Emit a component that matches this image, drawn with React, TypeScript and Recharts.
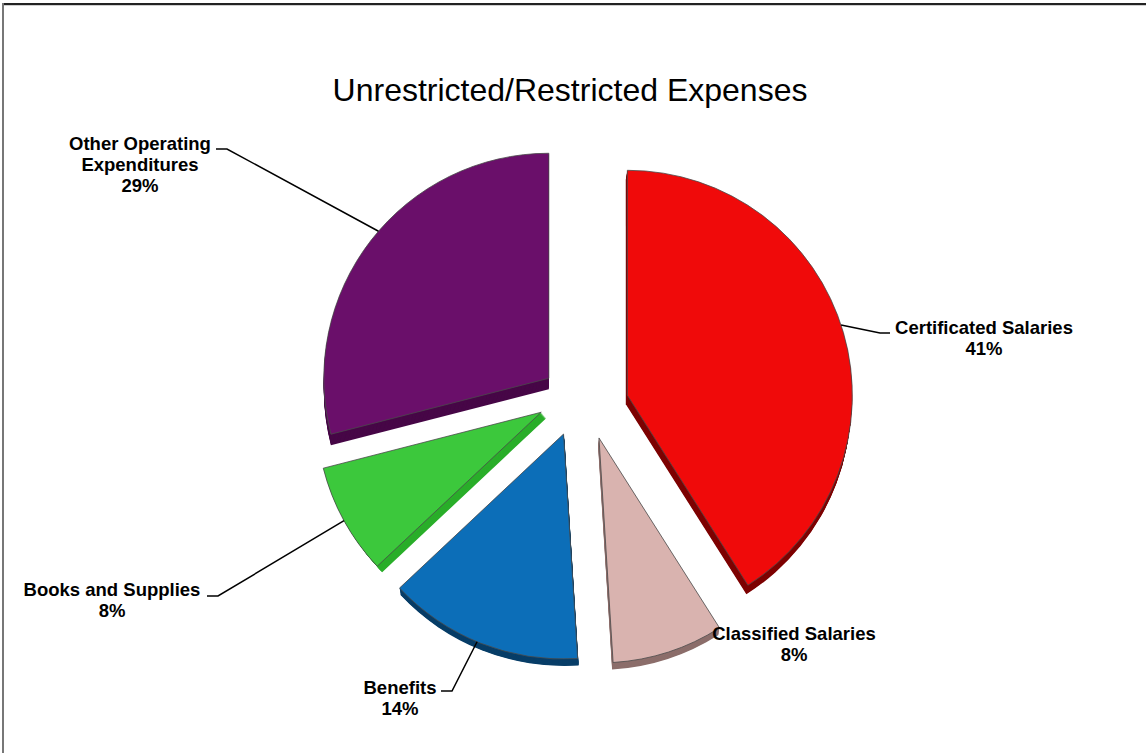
import React from 'react';
import { PieChart, Pie, Sector } from 'recharts';

// ---- data ----
const categories = [
  'Certificated Salaries',
  'Classified Salaries',
  'Benefits',
  'Books and Supplies',
  'Other Operating Expenditures',
];
const values = [41, 8, 14, 8, 29];
const labelLines = [
  ['Certificated Salaries'],
  ['Classified Salaries'],
  ['Benefits'],
  ['Books and Supplies'],
  ['Other Operating', 'Expenditures'],
];
const title = 'Unrestricted/Restricted Expenses';

// ---- style ----
const topColors = ['#F00A0A', '#D9B3AF', '#0C6EB8', '#3CC83C', '#6A0F6A'];
const sideColors = ['#7E0303', '#8C6E6B', '#083E68', '#2AAE2A', '#470747'];

const W = 1146;
const H = 753;
const CX = 584;
const CY = 404;
const R = 225;
const EXPLODE = 42;
const STEPS = 12;
const RAD = Math.PI / 180;
const FONT = '"Liberation Sans", Arial, sans-serif';

// per-slice visual tweaks: extra explode nudge and extrusion (depth) vector
const sliceStyle = [
  { nudge: [3, 3], depth: [-1.5, 9] },
  { nudge: [2, -6], depth: [-1, 7] },
  { nudge: [-5, -9], depth: [1, 7] },
  { nudge: [-6, -12], depth: [5, 6] },
  { nudge: [-2, 0], depth: [0, 11] },
];

// label layout: text centre/baseline, leader elbow and end (null = no leader)
const labelLayout: any[] = [
  { tx: 984, ty: 334, elbow: [880, 333], end: [890, 333], tweak: 2 },
  { tx: 794, ty: 640, elbow: null, end: null, tweak: 0 },
  { tx: 400, ty: 694, elbow: [452, 691], end: [441, 691], tweak: -1 },
  { tx: 112, ty: 596, elbow: [218, 596], end: [207, 596], tweak: 0 },
  { tx: 140, ty: 150, elbow: [227, 149], end: [216, 149], tweak: -3 },
];

const data = categories.map((name, i) => ({ name, value: values[i] }));

const explodedCenter = (cx: number, cy: number, midAngle: number, index: number) => ({
  x: cx + EXPLODE * Math.cos(-midAngle * RAD) + sliceStyle[index].nudge[0],
  y: cy + EXPLODE * Math.sin(-midAngle * RAD) + sliceStyle[index].nudge[1],
});

const renderSlice = (props: any) => {
  const { cx, cy, outerRadius, startAngle, endAngle, midAngle, index } = props;
  const o = explodedCenter(cx, cy, midAngle, index);
  const [dx, dy] = sliceStyle[index].depth;
  const layers = [];
  for (let k = STEPS; k >= 1; k--) {
    layers.push(
      <Sector
        key={k}
        cx={o.x + (dx * k) / STEPS}
        cy={o.y + (dy * k) / STEPS}
        innerRadius={0}
        outerRadius={outerRadius}
        startAngle={startAngle}
        endAngle={endAngle}
        fill={sideColors[index]}
        stroke="none"
      />
    );
  }
  return (
    <g key={`slice-${index}`}>
      {layers}
      <Sector
        cx={o.x}
        cy={o.y}
        innerRadius={0}
        outerRadius={outerRadius}
        startAngle={startAngle}
        endAngle={endAngle}
        fill={topColors[index]}
        stroke="#4a4a4a"
        strokeWidth={0.8}
      />
    </g>
  );
};

const renderLabel = (props: any) => {
  const { cx, cy, outerRadius, midAngle, index, percent } = props;
  const o = explodedCenter(cx, cy, midAngle, index);
  const L = labelLayout[index];
  const lines = [...labelLines[index], `${Math.round(percent * 100)}%`];
  let leader = null;
  if (L.elbow) {
    const a = (midAngle + L.tweak) * RAD;
    const sx = o.x + outerRadius * Math.cos(-a);
    const sy = o.y + outerRadius * Math.sin(-a);
    leader = (
      <polyline
        points={`${sx},${sy} ${L.elbow[0]},${L.elbow[1]} ${L.end[0]},${L.end[1]}`}
        fill="none"
        stroke="#000"
        strokeWidth={1.5}
      />
    );
  }
  return (
    <g key={`label-${index}`}>
      {leader}
      <text
        x={L.tx}
        y={L.ty}
        textAnchor="middle"
        fontFamily={FONT}
        fontWeight="bold"
        fontSize={18.5}
        fill="#000"
      >
        {lines.map((t, i) => (
          <tspan key={i} x={L.tx} dy={i === 0 ? 0 : 21}>
            {t}
          </tspan>
        ))}
      </text>
    </g>
  );
};

export default function App() {
  return (
    <div
      style={{
        position: 'absolute',
        left: 0,
        top: 0,
        width: W,
        height: H,
        background: '#fff',
        overflow: 'hidden',
      }}
    >
      <PieChart width={W} height={H} margin={{ top: 0, right: 0, bottom: 0, left: 0 }}>
        <Pie
          data={data}
          dataKey="value"
          nameKey="name"
          cx={CX}
          cy={CY}
          innerRadius={0}
          outerRadius={R}
          startAngle={90}
          endAngle={-270}
          fill="none"
          stroke="none"
          label={renderSlice}
          labelLine={false}
          isAnimationActive={false}
        />
        <Pie
          data={data}
          dataKey="value"
          nameKey="name"
          cx={CX}
          cy={CY}
          innerRadius={0}
          outerRadius={R}
          startAngle={90}
          endAngle={-270}
          fill="none"
          stroke="none"
          label={renderLabel}
          labelLine={false}
          isAnimationActive={false}
        />
      </PieChart>
      <svg
        width={W}
        height={H}
        style={{ position: 'absolute', left: 0, top: 0, pointerEvents: 'none' }}
      >
        <rect x={2} y={3} width={W - 2} height={2} fill="#222" />
        <rect x={4} y={5} width={W - 4} height={1} fill="#cfcfcf" />
        <rect x={2} y={3} width={2} height={H - 3} fill="#777" />
        <text
          x={570}
          y={101}
          textAnchor="middle"
          fontFamily={FONT}
          fontSize={32}
          fill="#000"
        >
          {title}
        </text>
      </svg>
    </div>
  );
}
